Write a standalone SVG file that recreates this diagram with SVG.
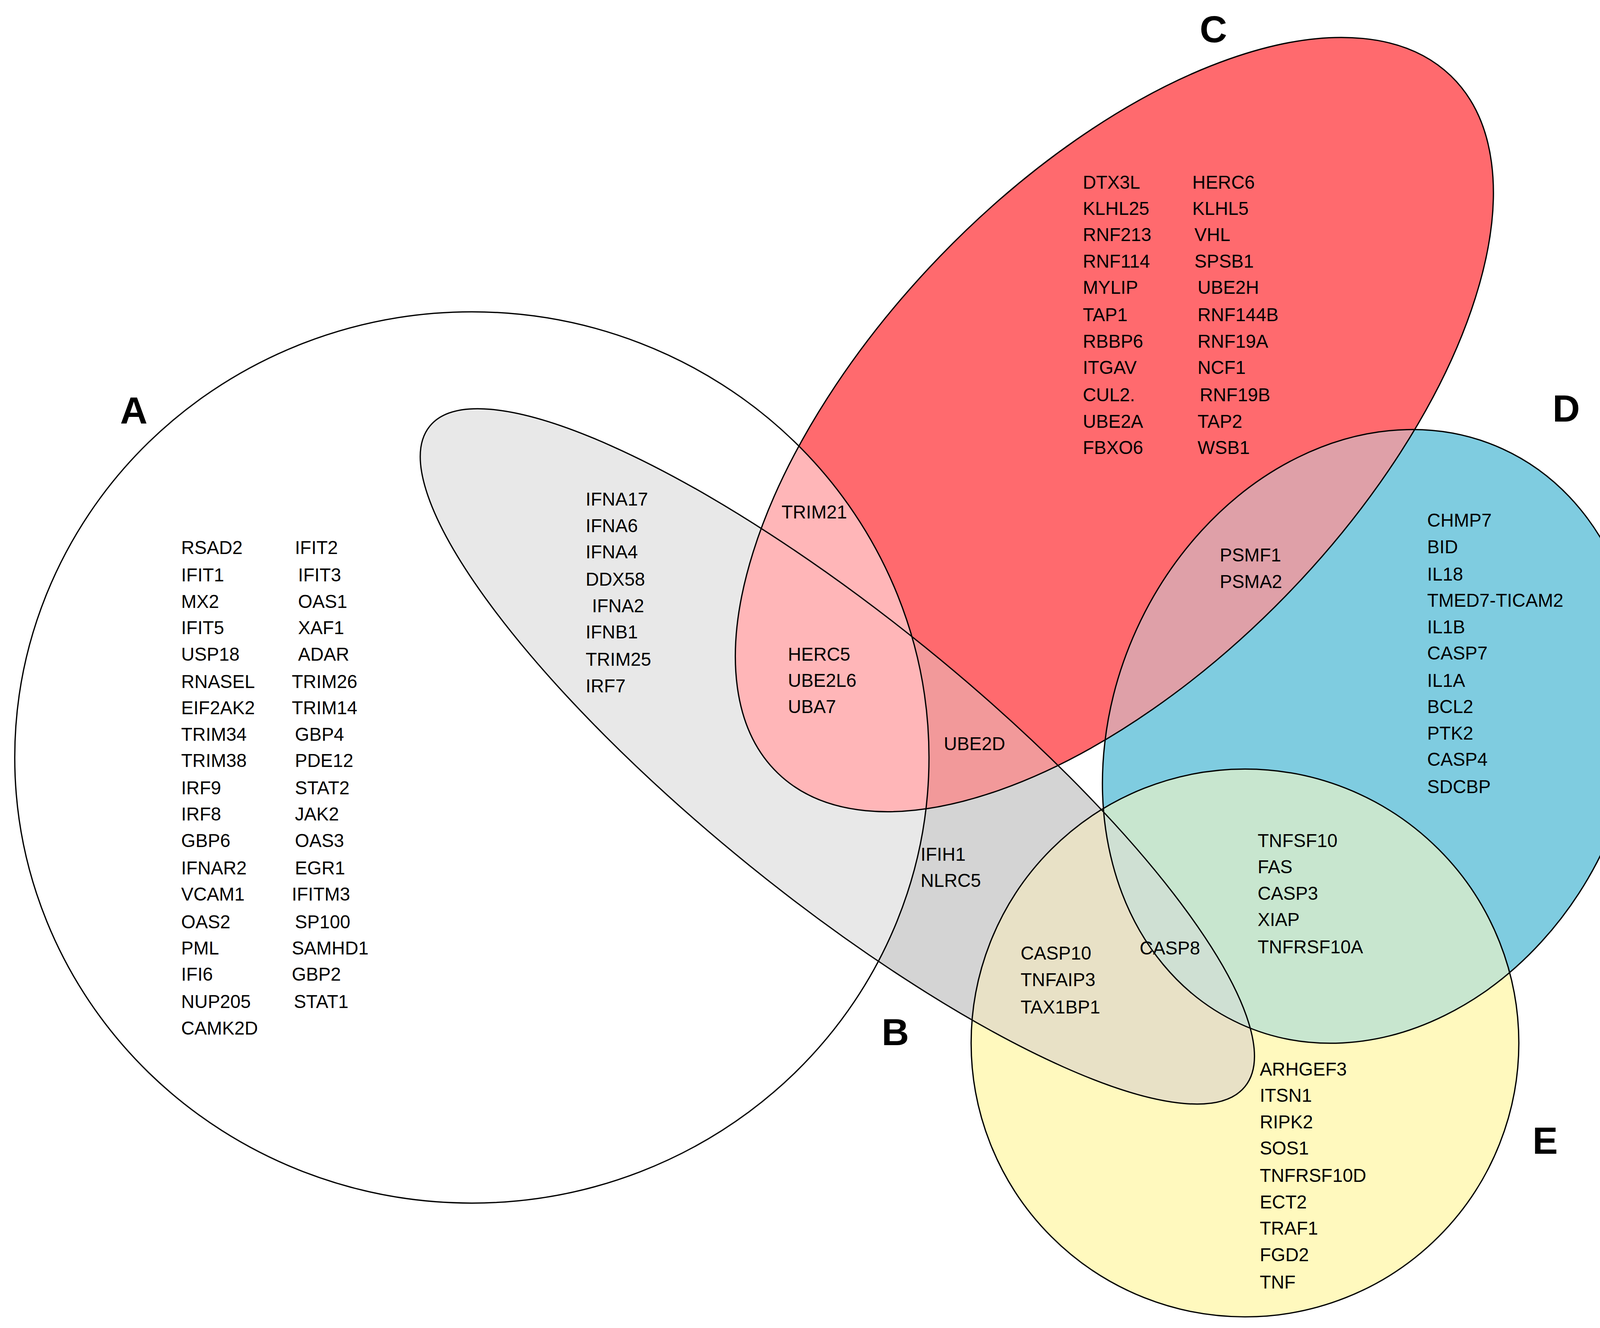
<svg xmlns="http://www.w3.org/2000/svg" xmlns:xlink="http://www.w3.org/1999/xlink" width="4228" height="3399" viewBox="0 0 4228 3399">
<style>
text{font-family:"Liberation Sans",Arial,sans-serif;font-size:17.5px;fill:#000}
.L{font-size:36px;font-weight:bold;text-anchor:middle}
.o{fill:none;stroke:#000;stroke-width:1.2}
</style>
<defs>
<ellipse id="eA" cx="448" cy="719" rx="434" ry="423"/>
<ellipse id="eB" cx="795" cy="718" rx="498" ry="133" transform="rotate(39 795 718)"/>
<ellipse id="eC" cx="1058" cy="403" rx="460" ry="230" transform="rotate(-46 1058 403)"/>
<ellipse id="eD" cx="1302" cy="699" rx="300" ry="245" transform="rotate(-65.5 1302 699)"/>
<circle id="eE" cx="1182" cy="990" r="260"/>
<clipPath id="cA"><use xlink:href="#eA"/></clipPath>
<clipPath id="cB"><use xlink:href="#eB"/></clipPath>
<clipPath id="cC"><use xlink:href="#eC"/></clipPath>
<clipPath id="cD"><use xlink:href="#eD"/></clipPath>
<clipPath id="cE"><use xlink:href="#eE"/></clipPath>
</defs>
<rect width="4228" height="3399" fill="#fff"/>
<g transform="scale(2.6964)">
<g id="fills">
<use xlink:href="#eB" fill="#D4D4D4"/>
<use xlink:href="#eC" fill="#FF6A6E"/>
<use xlink:href="#eD" fill="#7FCCE0"/>
<use xlink:href="#eE" fill="#FFF9BE"/>
<use xlink:href="#eD" fill="#DFA0A8" clip-path="url(#cC)"/>
<use xlink:href="#eE" fill="#C8E6CF" clip-path="url(#cD)"/>
<use xlink:href="#eB" fill="#F2999A" clip-path="url(#cC)"/>
<use xlink:href="#eB" fill="#E8E1C6" clip-path="url(#cE)"/>
<g clip-path="url(#cE)"><use xlink:href="#eB" fill="#CFE0D3" clip-path="url(#cD)"/></g>
<use xlink:href="#eB" fill="#E8E8E8" clip-path="url(#cA)"/>
<use xlink:href="#eC" fill="#FFB6B8" clip-path="url(#cA)"/>
</g>
<g id="outlines">
<use xlink:href="#eA" class="o"/>
<use xlink:href="#eB" class="o"/>
<use xlink:href="#eC" class="o"/>
<use xlink:href="#eD" class="o"/>
<use xlink:href="#eE" class="o"/>
</g>
<g id="labels">
<text class="L" x="127" y="402">A</text>
<text class="L" x="850" y="992">B</text>
<text class="L" x="1152" y="40">C</text>
<text class="L" x="1487" y="400">D</text>
<text class="L" x="1467" y="1095">E</text>
</g>
<g id="setA">
<text x="172" y="526">RSAD2</text><text x="172" y="552">IFIT1</text><text x="172" y="577">MX2</text><text x="172" y="602">IFIT5</text><text x="172" y="627">USP18</text><text x="172" y="653">RNASEL</text><text x="172" y="678">EIF2AK2</text><text x="172" y="703">TRIM34</text><text x="172" y="728">TRIM38</text><text x="172" y="754">IRF9</text><text x="172" y="779">IRF8</text><text x="172" y="804">GBP6</text><text x="172" y="830">IFNAR2</text><text x="172" y="855">VCAM1</text><text x="172" y="881">OAS2</text><text x="172" y="906">PML</text><text x="172" y="931">IFI6</text><text x="172" y="957">NUP205</text><text x="172" y="982">CAMK2D</text>
<text x="280" y="526">IFIT2</text><text x="283" y="552">IFIT3</text><text x="283" y="577">OAS1</text><text x="283" y="602">XAF1</text><text x="283" y="627">ADAR</text><text x="277" y="653">TRIM26</text><text x="277" y="678">TRIM14</text><text x="280" y="703">GBP4</text><text x="280" y="728">PDE12</text><text x="280" y="754">STAT2</text><text x="280" y="779">JAK2</text><text x="280" y="804">OAS3</text><text x="280" y="830">EGR1</text><text x="277" y="855">IFITM3</text><text x="280" y="881">SP100</text><text x="277" y="906">SAMHD1</text><text x="277" y="931">GBP2</text><text x="279" y="957">STAT1</text>
</g>
<g id="setB">
<text x="556" y="480">IFNA17</text><text x="556" y="505">IFNA6</text><text x="556" y="530">IFNA4</text><text x="556" y="556">DDX58</text><text x="562" y="581">IFNA2</text><text x="556" y="606">IFNB1</text><text x="556" y="632">TRIM25</text><text x="556" y="657">IRF7</text>
</g>
<g id="setAC"><text x="742" y="492">TRIM21</text></g>
<g id="setABC"><text x="748" y="627">HERC5</text><text x="748" y="652">UBE2L6</text><text x="748" y="677">UBA7</text></g>
<g id="setBC"><text x="896" y="712">UBE2D</text></g>
<g id="setAB"><text x="874" y="817">IFIH1</text><text x="874" y="842">NLRC5</text></g>
<g id="setC">
<text x="1028" y="179">DTX3L</text><text x="1028" y="204">KLHL25</text><text x="1028" y="229">RNF213</text><text x="1028" y="254">RNF114</text><text x="1028" y="279">MYLIP</text><text x="1028" y="305">TAP1</text><text x="1028" y="330">RBBP6</text><text x="1028" y="355">ITGAV</text><text x="1028" y="381">CUL2.</text><text x="1028" y="406">UBE2A</text><text x="1028" y="431">FBXO6</text>
<text x="1132" y="179">HERC6</text><text x="1132" y="204">KLHL5</text><text x="1134" y="229">VHL</text><text x="1134" y="254">SPSB1</text><text x="1137" y="279">UBE2H</text><text x="1137" y="305">RNF144B</text><text x="1137" y="330">RNF19A</text><text x="1137" y="355">NCF1</text><text x="1139" y="381">RNF19B</text><text x="1137" y="406">TAP2</text><text x="1137" y="431">WSB1</text>
</g>
<g id="setCD"><text x="1158" y="533">PSMF1</text><text x="1158" y="558">PSMA2</text></g>
<g id="setD">
<text x="1355" y="500">CHMP7</text><text x="1355" y="525">BID</text><text x="1355" y="551">IL18</text><text x="1355" y="576">TMED7-TICAM2</text><text x="1355" y="601">IL1B</text><text x="1355" y="626">CASP7</text><text x="1355" y="652">IL1A</text><text x="1355" y="677">BCL2</text><text x="1355" y="702">PTK2</text><text x="1355" y="727">CASP4</text><text x="1355" y="753">SDCBP</text>
</g>
<g id="setDE"><text x="1194" y="804">TNFSF10</text><text x="1194" y="829">FAS</text><text x="1194" y="854">CASP3</text><text x="1194" y="879">XIAP</text><text x="1194" y="905">TNFRSF10A</text></g>
<g id="setBDE"><text x="1082" y="906">CASP8</text></g>
<g id="setBE"><text x="969" y="911">CASP10</text><text x="969" y="936">TNFAIP3</text><text x="969" y="962">TAX1BP1</text></g>
<g id="setE">
<text x="1196" y="1021">ARHGEF3</text><text x="1196" y="1046">ITSN1</text><text x="1196" y="1071">RIPK2</text><text x="1196" y="1096">SOS1</text><text x="1196" y="1122">TNFRSF10D</text><text x="1196" y="1147">ECT2</text><text x="1196" y="1172">TRAF1</text><text x="1196" y="1197">FGD2</text><text x="1196" y="1223">TNF</text>
</g>
</g>
</svg>
